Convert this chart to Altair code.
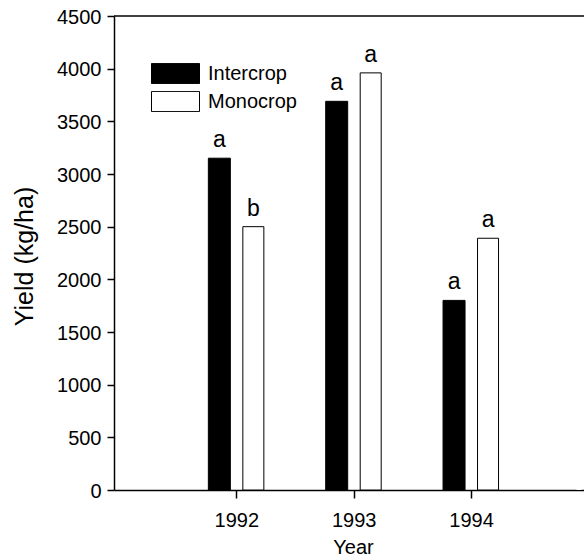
import altair as alt
import pandas as pd

years = [1992, 1993, 1994]
systems = ["Intercrop", "Monocrop"]
intercrop = [3150, 3690, 1800]
monocrop = [2500, 3960, 2390]
intercrop_letters = ["a", "a", "a"]
monocrop_letters = ["b", "a", "a"]
y_ticks = [0, 500, 1000, 1500, 2000, 2500, 3000, 3500, 4000, 4500]
x_min, x_max = 1991, 1994.92
y_max = 4500

rows = []
for yr, v, l in zip(years, intercrop, intercrop_letters):
    rows.append({"Year": yr, "System": "Intercrop", "Yield": v, "Letter": l})
for yr, v, l in zip(years, monocrop, monocrop_letters):
    rows.append({"Year": yr, "System": "Monocrop", "Yield": v, "Letter": l})
df = pd.DataFrame(rows)

FONT = "Liberation Sans"
xscale = alt.Scale(domain=[x_min, x_max], nice=False, zero=False)
yscale = alt.Scale(domain=[0, y_max], nice=False)

x = alt.X(
    "Year:Q",
    scale=xscale,
    axis=alt.Axis(
        values=years, format="d", title="Year",
        tickSize=8, labelPadding=28, labelBaseline="alphabetic",
        titleX=239, titleY=63, titleBaseline="alphabetic", titleAlign="center",
        titleFontSize=20,
    ),
)
y = alt.Y(
    "Yield:Q",
    scale=yscale,
    stack=None,
    axis=alt.Axis(
        values=y_ticks, format="d", title="Yield (kg/ha)",
        tickSize=7, labelPadding=6, labelBaseline="middle", labelOffset=1,
        titleX=-90, titleY=240, titleAlign="center", titleBaseline="middle",
        titleAngle=270, titleFontSize=25,
    ),
)
color = alt.Color(
    "System:N",
    scale=alt.Scale(domain=systems, range=["black", "white"]),
    legend=alt.Legend(
        title=None, orient="none", legendX=37, legendY=47,
        symbolType="M-1,-0.42H1V0.42H-1Z", symbolSize=2304,
        symbolStrokeColor="black", symbolStrokeWidth=1, symbolOpacity=1,
        labelFont=FONT, labelFontSize=20, labelColor="black", labelOffset=8,
        rowPadding=7, clipHeight=21, padding=0,
    ),
)

base = alt.Chart(df)

bars_i = base.transform_filter(alt.datum.System == "Intercrop").mark_bar(
    width=22, xOffset=-17, stroke="black", strokeWidth=1, opacity=1
).encode(x=x, y=y, color=color)

bars_m = base.transform_filter(alt.datum.System == "Monocrop").mark_bar(
    width=21, xOffset=17, stroke="black", strokeWidth=1, opacity=1
).encode(x=x, y=y, color=color)

text_i = base.transform_filter(alt.datum.System == "Intercrop").mark_text(
    xOffset=-17, dy=-11, baseline="alphabetic", align="center",
    font=FONT, fontSize=23, color="black"
).encode(x=x, y=y, text="Letter:N")

text_m = base.transform_filter(alt.datum.System == "Monocrop").mark_text(
    xOffset=17, dy=-11, baseline="alphabetic", align="center",
    font=FONT, fontSize=23, color="black"
).encode(x=x, y=y, text="Letter:N")

# white cover over the plot's right edge (the reference has no right frame)
cover = alt.Chart(pd.DataFrame({"Year": [x_max]})).mark_rule(
    color="white", strokeWidth=5
).encode(x=alt.X("Year:Q"))

# top frame line
top = alt.Chart(pd.DataFrame({"Yield": [y_max]})).mark_rule(
    color="black", strokeWidth=1.5
).encode(y=y)

chart = alt.layer(bars_i, bars_m, text_i, text_m, cover, top).properties(
    width=470, height=474,
    autosize=alt.AutoSizeParams(type="none"),
    padding={"left": 114, "top": 16, "right": 0, "bottom": 67},
).configure_view(stroke="transparent", strokeWidth=0).configure_axis(
    domainColor="black", tickColor="black", tickWidth=1.5, domainWidth=1.5,
    labelFont=FONT, labelFontSize=20, labelColor="black",
    titleFont=FONT, titleColor="black", titleFontWeight="normal",
    grid=False,
)

chart.save("out.html", embed_options={"renderer": "svg", "actions": False})
